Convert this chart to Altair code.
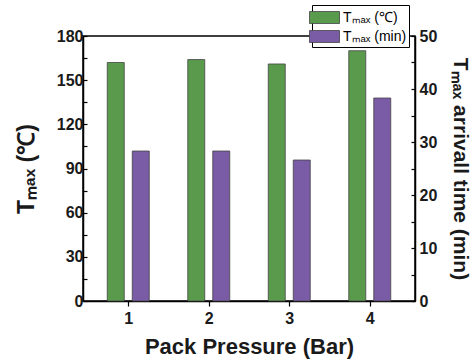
import altair as alt
import pandas as pd

pressure = [1, 2, 3, 4]
tmax_c = [162, 164, 161, 170]
tmax_min = [28.3, 28.3, 26.6, 38.3]
series_names = ["Tₘₐₓ (℃)", "Tₘₐₓ (min)"]
colors = ["#5a9a4c", "#7a5ba6"]

df_c = pd.DataFrame({"pressure": pressure, "value": tmax_c, "series": series_names[0]})
df_m = pd.DataFrame({"pressure": pressure, "value": tmax_min, "series": series_names[1]})

FONT = "Liberation Sans"
LBL = 16

color = alt.Color(
    "series:N",
    scale=alt.Scale(domain=series_names, range=colors),
    legend=alt.Legend(
        title=None, orient="none", legendX=229, legendY=-31,
        fillColor="white", strokeColor="black", padding=2,
        symbolType="M-1.5,-0.6H1.5V0.6H-1.5Z", symbolSize=400,
        symbolStrokeColor="#444", symbolStrokeWidth=0.8, symbolOpacity=1,
        labelFont=FONT, labelFontSize=14, labelColor="black", labelOffset=8,
        rowPadding=0,
    ),
)

xenc = alt.X(
    "pressure:Q",
    scale=alt.Scale(domain=[0.5, 4.5]),
    axis=alt.Axis(values=pressure, format="d", title="Pack Pressure (Bar)",
                  labelFontSize=LBL, labelFont=FONT, labelFontWeight="bold",
                  tickSize=5, labelPadding=4, titlePadding=10, titleFontSize=22, grid=False),
)

green = alt.Chart(df_c).mark_bar(width=17, xOffset=-12.5, stroke="#444", strokeWidth=0.8).encode(
    x=xenc,
    y=alt.Y("value:Q", scale=alt.Scale(domain=[0, 180]),
            axis=alt.Axis(orient="left", values=list(range(0, 181, 15)),
                          labelExpr="datum.value % 30 == 0 ? datum.label : ''",
                          labelFontSize=LBL, labelFont=FONT, labelFontWeight="bold",
                          tickSize={"expr": "-4"}, labelPadding=4,
                          title="Tₘₐₓ (℃)", titleFontSize=23, titlePadding=18, grid=False)),
    color=color,
)

purple = alt.Chart(df_m).mark_bar(width=17, xOffset=12.5, stroke="#444", strokeWidth=0.8).encode(
    x=xenc,
    y=alt.Y("value:Q", scale=alt.Scale(domain=[0, 50]),
            axis=alt.Axis(orient="right", values=list(range(0, 51, 5)),
                          labelExpr="datum.value % 10 == 0 ? datum.label : ''",
                          labelFontSize=LBL, labelFont=FONT, labelFontWeight="bold",
                          tickSize={"expr": "-4"}, labelPadding=8,
                          title="Tₘₐₓ arrivall time (min)", titleFontSize=21, titlePadding=13, grid=False)),
    color=color,
)

chart = alt.layer(green, purple).resolve_scale(y="independent").properties(
    width=332, height=265,
    autosize=alt.AutoSizeParams(type="none"),
    padding={"left": 83, "top": 36, "right": 60, "bottom": 60},
    background="white",
).configure_view(stroke="black", strokeWidth=1.5).configure_axis(
    domainColor="black", domainWidth=1.5, tickColor="black", tickWidth=1.2,
    labelColor="#1a1a1a",
    titleFont=FONT, titleFontWeight="bold", titleColor="#1a1a1a",
)

chart.save("out.html", embed_options={"renderer": "svg", "actions": False})
